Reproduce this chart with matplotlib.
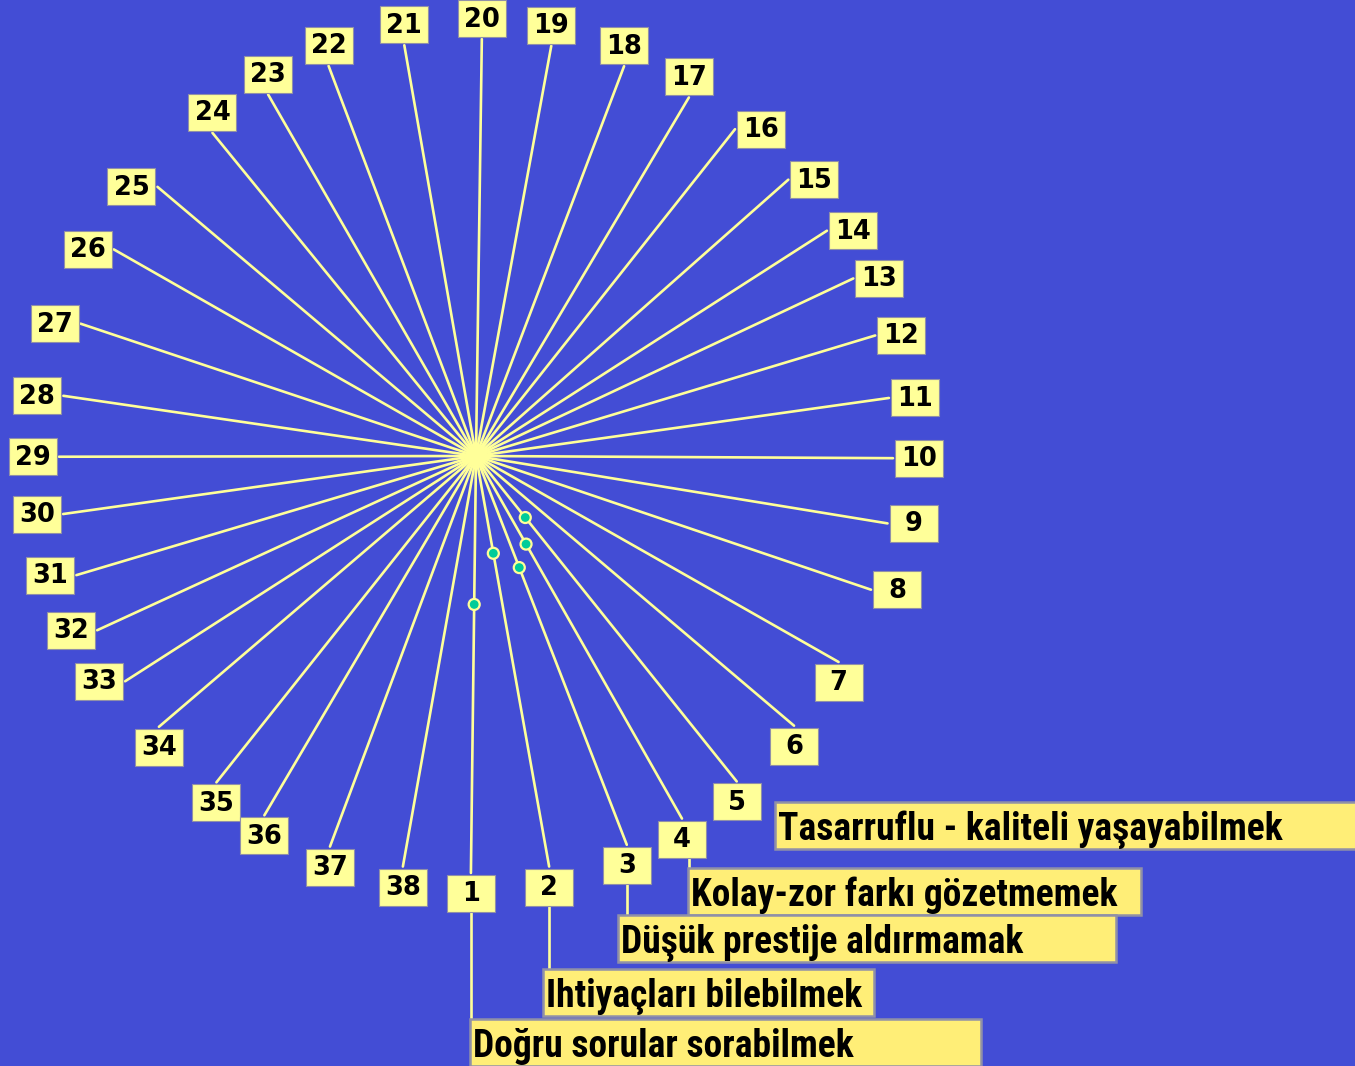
import numpy as np
import matplotlib
matplotlib.use("Agg")
import matplotlib.pyplot as plt
from matplotlib.patches import Rectangle, Circle
from matplotlib import font_manager as fm

# ---- data ----
spoke_numbers = list(range(1, 39))
# spoke directions (degrees, counter-clockwise from the right, as drawn)
spoke_angles = [-90.7, -79.9, -68.8, -60.4, -51.3, -40.3, -29.6, -18.7, -9.3, -0.3,
                8.0, 16.8, 25.2, 32.7, 41.5, 51.6, 59.3, 69.2, 79.6, 89.2,
                99.9, 110.7, 119.9, 129.2, 139.8, 150.3, 161.5, 171.7, 180.1, 188.0,
                196.6, 204.7, 212.7, 220.5, 231.5, 239.5, 249.5, 259.9]
# marked items (spoke number) and their position along the spoke (0 = centre, 1 = tip)
marked_spokes = [1, 2, 3, 4, 5]
marked_values = [0.356, 0.237, 0.287, 0.243, 0.189]
item_texts = ["Tasarruflu - kaliteli yaşayabilmek",
              "Kolay-zor farkı gözetmemek",
              "Düşük prestije aldırmamak",
              "Ihtiyaçları bilebilmek",
              "Doğru sorular sorabilmek"]
item_spokes = [5, 4, 3, 2, 1]

# ---- style / layout ----
BG = "#434DD5"
LINE = "#FFFF99"
BOX = "#FFFF99"
BIGBOX = "#FFEE77"
EDGE = "#9090A8"
W, H = 1355, 1066
CX, CY, R = 476, 456, 417
BW, BH, GAP = 48, 37, 2


def pick_narrow_font():
    entries = fm.fontManager.ttflist
    def find(pred):
        for e in entries:
            if pred(e):
                return e.fname
        return None
    bold = lambda e: str(e.weight) in ("bold", "700")
    cands = [
        lambda e: e.name == "Liberation Sans Narrow" and bold(e),
        lambda e: e.name == "Roboto Condensed" and bold(e),
        lambda e: "Narrow" in e.name and bold(e),
        lambda e: "Condensed" in e.name and "DejaVu" not in e.name and bold(e),
        lambda e: e.name == "DejaVu Sans" and e.stretch == "condensed" and bold(e),
        lambda e: "Condensed" in e.name and bold(e),
        lambda e: e.name == "Liberation Sans" and bold(e),
    ]
    for c in cands:
        f = find(c)
        if f:
            return fm.FontProperties(fname=f)
    return fm.FontProperties(family="DejaVu Sans", weight="bold")


fig = plt.figure(figsize=(W / 100, H / 100), dpi=100, facecolor=BG)
ax = fig.add_axes([0, 0, 1, 1])
ax.set_xlim(0, W)
ax.set_ylim(H, 0)
ax.set_facecolor(BG)
ax.axis("off")


def side_of(ang):
    a = ang % 360
    if a >= 335 or a < 55:
        return "right"
    if a < 135:
        return "top"
    if a < 217:
        return "left"
    return "bottom"


box_centres = {}
for num, ang in zip(spoke_numbers, spoke_angles):
    t = np.deg2rad(ang)
    ux, uy = np.cos(t), -np.sin(t)
    ex, ey = CX + R * ux, CY + R * uy
    ax.plot([CX, ex], [CY, ey], color=LINE, lw=1.9, solid_capstyle="round", zorder=2)
    s = side_of(ang)
    if s == "right":
        bx, by = ex + GAP + BW / 2, ey
    elif s == "left":
        bx, by = ex - GAP - BW / 2, ey
    elif s == "top":
        bx, by = ex, ey - GAP - BH / 2
    else:
        bx, by = ex, ey + GAP + BH / 2
    box_centres[num] = (bx, by)
    ax.add_patch(Rectangle((bx - BW / 2, by - BH / 2), BW, BH, facecolor=BOX,
                           edgecolor=EDGE, lw=0.8, zorder=4))
    ax.text(bx, by + 1, str(num), ha="center", va="center", fontsize=18.5,
            fontweight="bold", family="DejaVu Sans", color="black", zorder=5)

# markers on spokes
for num, v in zip(marked_spokes, marked_values):
    t = np.deg2rad(spoke_angles[num - 1])
    ax.add_patch(Circle((CX + v * R * np.cos(t), CY - v * R * np.sin(t)), 5.5,
                        facecolor="#00CC99", edgecolor=LINE, lw=1.6, zorder=6))

# text boxes (layout)
box_left = [775, 688, 618, 543, 470]
box_right = [1362, 1141, 1116, 874, 981]
box_top = [802, 868, 915, 969, 1019]
box_h = 47

fp = pick_narrow_font()
renderer = fig.canvas.get_renderer()
probe = ax.text(0, 0, item_texts[4], fontproperties=fp, fontsize=27.5)
wpx = probe.get_window_extent(renderer).width
probe.remove()
big_size = min(27.5 * 381.0 / wpx, 28)

for i, (txt, sp) in enumerate(zip(item_texts, item_spokes)):
    l, r, tp = box_left[i], box_right[i], box_top[i]
    bx, by = box_centres[sp]
    if sp != 5:
        cx = l + 1 if sp == 4 else bx
        ax.plot([cx, cx], [by + BH / 2 + 1, tp], color=LINE, lw=1.9, zorder=3)
    ax.add_patch(Rectangle((l, tp), r - l, box_h, facecolor=BIGBOX, edgecolor=EDGE,
                           lw=1.8, zorder=7 + i))
    ax.text(l + 3, tp + box_h - 9, txt, ha="left", va="baseline", fontproperties=fp,
            fontsize=big_size, color="black", zorder=7 + i)

fig.savefig("out.png", dpi=100, facecolor=BG)
